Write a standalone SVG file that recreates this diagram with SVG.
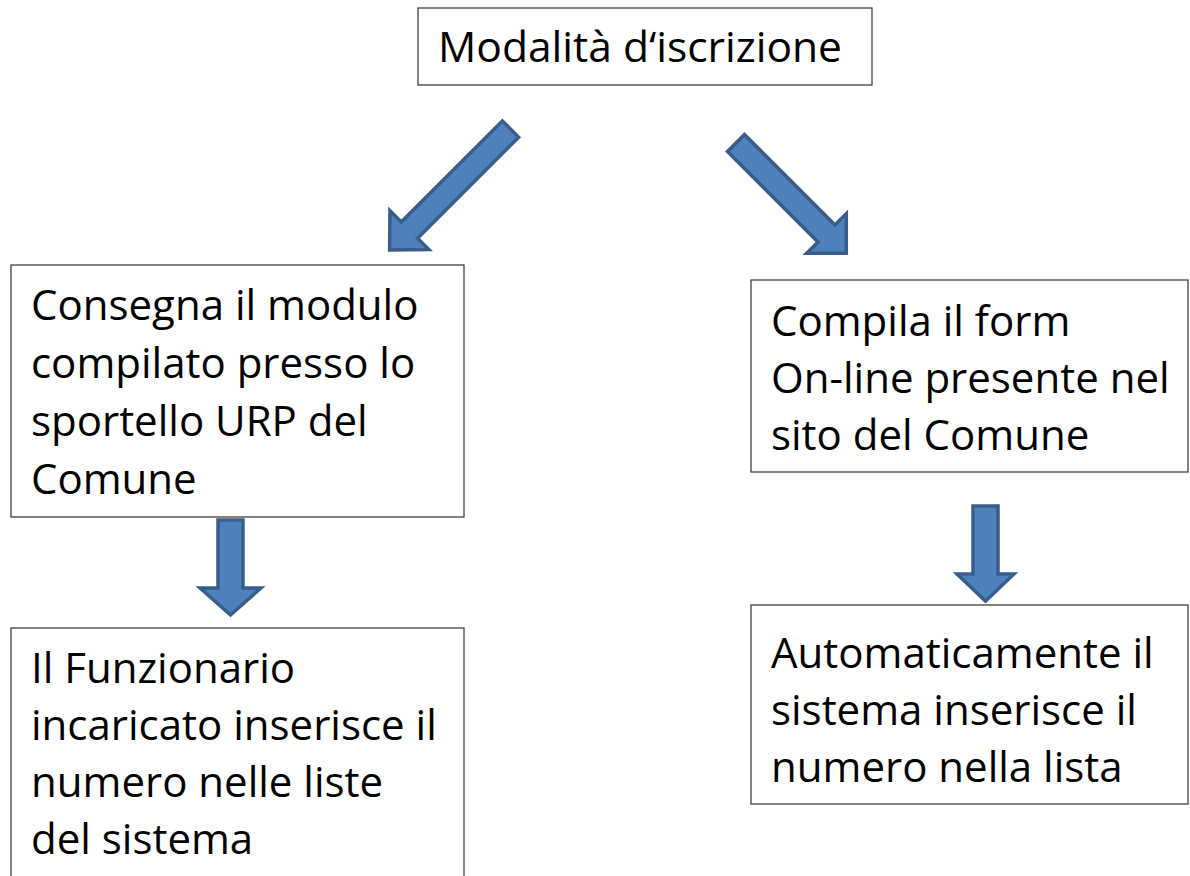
<svg xmlns="http://www.w3.org/2000/svg" width="1190" height="876" viewBox="0 0 1190 876">
<style>
.box{fill:#fff;stroke:#404040;stroke-width:1.3}
.t{font-family:"Open Sans","Liberation Sans",sans-serif;font-size:42px;fill:#000}
.arr{fill:#4f81bd;stroke:#385d8a;stroke-width:3.5;stroke-linejoin:miter}
</style>
<rect width="1190" height="876" fill="#fff"/>
<g id="connectors">
<polygon class="arr" transform="translate(510.5,129) rotate(45)" points="-11.5,0 11.5,0 11.5,143 27.5,143 0,171 -27.5,143 -11.5,143"/>
<polygon class="arr" transform="translate(736,143) rotate(-45)" points="-12,0 12,0 12,128 28,128 0,156 -28,128 -12,128"/>
<polygon class="arr" points="218,520 243,520 243,588 261,588 230.5,615 200,588 218,588"/>
<polygon class="arr" points="973,506 998,506 998,574 1014,574 985.5,601 957,574 973,574"/>
</g>
<g id="n0">
<rect class="box" x="418" y="8" width="454" height="77"/>
<text class="t" x="438" y="62" textLength="404" lengthAdjust="spacingAndGlyphs">Modalità d‘iscrizione</text>
</g>
<g id="n1">
<rect class="box" x="11" y="265" width="453" height="252"/>
<text class="t" x="31" y="320">Consegna il modulo</text>
<text class="t" x="31" y="378">compilato presso lo</text>
<text class="t" x="31" y="436">sportello URP del</text>
<text class="t" x="31" y="494">Comune</text>
</g>
<g id="n2">
<rect class="box" x="751" y="280" width="437" height="192"/>
<text class="t" x="771" y="336">Compila il form</text>
<text class="t" x="771" y="393">On-line presente nel</text>
<text class="t" x="771" y="450">sito del Comune</text>
</g>
<g id="n3">
<rect class="box" x="11" y="628" width="453" height="260"/>
<text class="t" x="31" y="683">Il Funzionario</text>
<text class="t" x="31" y="740">incaricato inserisce il</text>
<text class="t" x="31" y="797">numero nelle liste</text>
<text class="t" x="31" y="854">del sistema</text>
</g>
<g id="n4">
<rect class="box" x="751" y="605" width="437" height="199"/>
<text class="t" x="771" y="668">Automaticamente il</text>
<text class="t" x="771" y="725">sistema inserisce il</text>
<text class="t" x="771" y="782">numero nella lista</text>
</g>
</svg>
